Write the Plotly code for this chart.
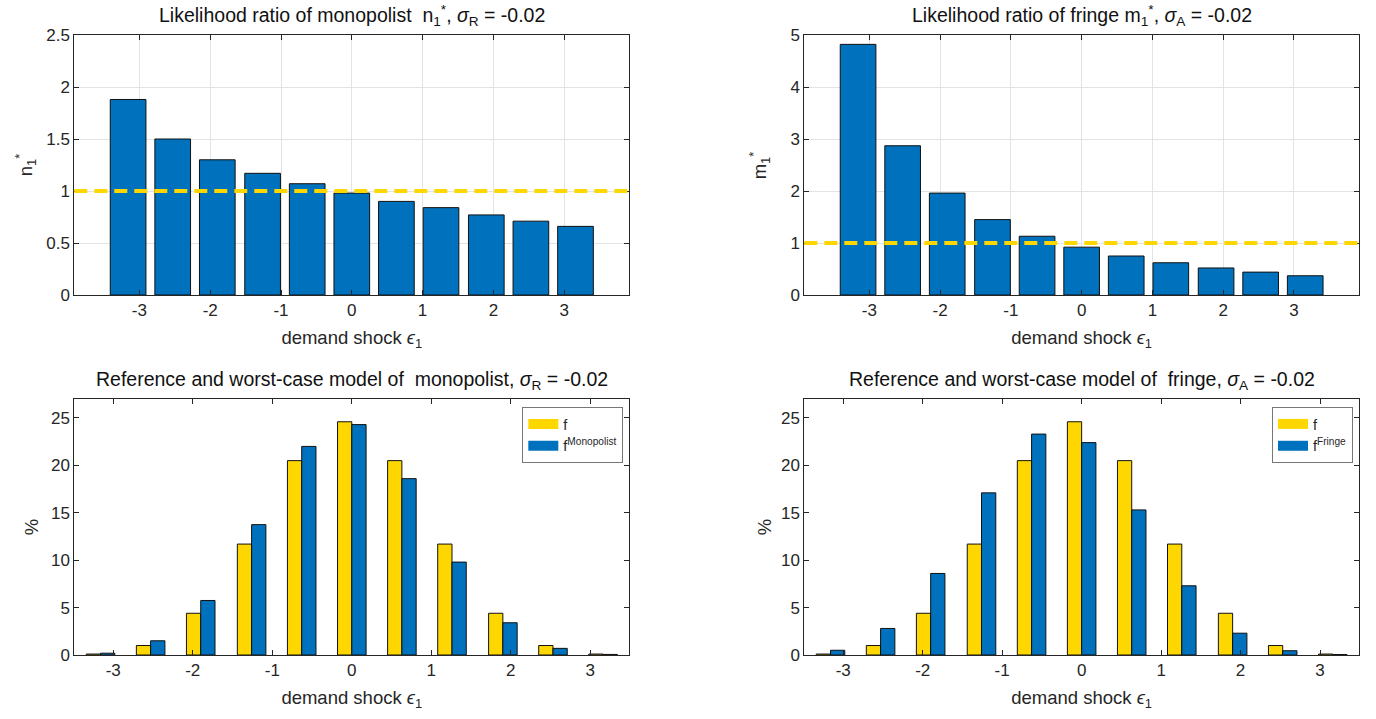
import numpy as np
import plotly.graph_objects as go

# ---------------- data ----------------
eps_grid = [-3.16, -2.53, -1.90, -1.26, -0.63, 0.0, 0.63, 1.26, 1.90, 2.53, 3.16]
lr_monopolist = [1.88, 1.50, 1.30, 1.17, 1.07, 0.98, 0.90, 0.84, 0.77, 0.71, 0.66]
lr_fringe = [4.82, 2.87, 1.96, 1.45, 1.13, 0.92, 0.75, 0.62, 0.52, 0.44, 0.37]
f_reference = [0.1, 1.0, 4.4, 11.7, 20.5, 24.6, 20.5, 11.7, 4.4, 1.0, 0.1]
f_monopolist = [0.19, 1.5, 5.75, 13.75, 22.0, 24.3, 18.6, 9.8, 3.4, 0.7, 0.06]
f_fringe = [0.5, 2.8, 8.6, 17.1, 23.3, 22.4, 15.3, 7.3, 2.3, 0.45, 0.05]
baseline = 1.0
x_ticks = [-3, -2, -1, 0, 1, 2, 3]
x_tick_labels = ["-3", "-2", "-1", "0", "1", "2", "3"]

BLUE = "#0072BD"
YELLOW = "#FFD700"
AX = "#262626"
FONT = "Liberation Sans, Arial, Helvetica, sans-serif"
TICK_SIZE = 17
LABEL_SIZE = 18.5
TITLE_SIZE = 19.5

W, H = 1376, 719
def px_x(a, b):
    return [a / W, b / W]
def px_y(top, bot):
    return [(H - bot) / H, (H - top) / H]

dx_left = px_x(74.3, 629.3)
dx_right = px_x(804.3, 1359)
dy_top = px_y(35, 295)
dy_bot = px_y(399, 655)

spacing = float(np.min(np.diff(eps_grid)))
top_w = 0.8 * spacing
bot_w = 0.285 * spacing

fig = go.Figure()

edge = dict(color="#111111", width=1)

fig.add_trace(go.Bar(x=eps_grid, y=lr_monopolist, width=top_w, marker=dict(color=BLUE, line=edge),
                     xaxis="x", yaxis="y", showlegend=False))
fig.add_trace(go.Bar(x=eps_grid, y=lr_fringe, width=top_w, marker=dict(color=BLUE, line=edge),
                     xaxis="x2", yaxis="y2", showlegend=False))
fig.add_trace(go.Bar(x=eps_grid, y=f_reference, width=bot_w, offset=-bot_w, marker=dict(color=YELLOW, line=edge),
                     xaxis="x3", yaxis="y3", showlegend=False))
fig.add_trace(go.Bar(x=eps_grid, y=f_monopolist, width=bot_w, offset=0, marker=dict(color=BLUE, line=edge),
                     xaxis="x3", yaxis="y3", showlegend=False))
fig.add_trace(go.Bar(x=eps_grid, y=f_reference, width=bot_w, offset=-bot_w, marker=dict(color=YELLOW, line=edge),
                     xaxis="x4", yaxis="y4", showlegend=False))
fig.add_trace(go.Bar(x=eps_grid, y=f_fringe, width=bot_w, offset=0, marker=dict(color=BLUE, line=edge),
                     xaxis="x4", yaxis="y4", showlegend=False))

# legend proxies
for name, col, lg in [("f", YELLOW, "legend"), ("f<sup>Monopolist</sup>", BLUE, "legend"),
                      ("f", YELLOW, "legend2"), ("f<sup>Fringe</sup>", BLUE, "legend2")]:
    fig.add_trace(go.Scatter(x=[None], y=[None], mode="lines", name=name,
                             line=dict(color=col, width=15),
                             xaxis="x3" if lg == "legend" else "x4",
                             yaxis="y3" if lg == "legend" else "y4",
                             legend=lg, showlegend=True, hoverinfo="skip"))

for xr, yr in [("x", "y"), ("x2", "y2")]:
    fig.add_shape(type="line", xref=xr + " domain", yref=yr, x0=0, x1=1, y0=baseline, y1=baseline,
                  line=dict(color=YELLOW, width=4, dash="13px,7px"), layer="above")

def grid_kw(grid):
    if grid:
        return dict(showgrid=True, gridcolor="#e3e3e3", gridwidth=1)
    return dict(showgrid=False, minor=dict(showgrid=False))

def common(grid):
    return dict(ticks="inside", ticklen=5, tickcolor=AX, mirror="ticks", showline=True, linecolor=AX,
                linewidth=1, zeroline=False, automargin=False, showspikes=False, **grid_kw(grid),
                tickfont=dict(size=TICK_SIZE, color=AX, family=FONT))

def xax(domain, anchor, rng, grid):
    return dict(domain=domain, anchor=anchor, range=rng, tickmode="array", tickvals=x_ticks,
                ticktext=x_tick_labels, **common(grid),
                title=dict(text="demand shock <i>ϵ</i><sub>1</sub>",
                           font=dict(size=LABEL_SIZE, color=AX, family=FONT), standoff=11))

def yax(domain, anchor, rng, dtick, grid):
    return dict(domain=domain, anchor=anchor, range=rng, dtick=dtick, tick0=0, **common(grid))

fig.update_layout(
    template="none",
    width=W, height=H, margin=dict(l=0, r=0, t=0, b=0, pad=0, autoexpand=False),
    paper_bgcolor="white", plot_bgcolor="white", hovermode=False,
    barmode="overlay", font=dict(family=FONT, color=AX),
    xaxis=xax(dx_left, "y", [-3.92, 3.92], True),
    yaxis=yax(dy_top, "x", [0, 2.5], 0.5, True),
    xaxis2=xax(dx_right, "y2", [-3.92, 3.92], True),
    yaxis2=yax(dy_top, "x2", [0, 5], 1, True),
    xaxis3=xax(dx_left, "y3", [-3.49, 3.49], False),
    yaxis3=yax(dy_bot, "x3", [0, 27], 5, False),
    xaxis4=xax(dx_right, "y4", [-3.49, 3.49], False),
    yaxis4=yax(dy_bot, "x4", [0, 27], 5, False),
    legend=dict(x=dx_left[1] - 6 / W, y=dy_bot[1] - 8 / H, xanchor="right", yanchor="top",
                bgcolor="white", bordercolor="#777777", borderwidth=1,
                font=dict(size=14.5, color=AX, family=FONT), tracegroupgap=0),
    legend2=dict(x=dx_right[1] - 6 / W, y=dy_bot[1] - 8 / H, xanchor="right", yanchor="top",
                 bgcolor="white", bordercolor="#777777", borderwidth=1,
                 font=dict(size=14.5, color=AX, family=FONT), tracegroupgap=0),
)

titles = [
    ("Likelihood ratio of monopolist \u00a0n<sub>1</sub><sup>*</sup>, <i>σ</i><sub>R</sub> = -0.02", dx_left, dy_top),
    ("Likelihood ratio of fringe m<sub>1</sub><sup>*</sup>, <i>σ</i><sub>A</sub> = -0.02", dx_right, dy_top),
    ("Reference and worst-case model of \u00a0monopolist, <i>σ</i><sub>R</sub> = -0.02", dx_left, dy_bot),
    ("Reference and worst-case model of \u00a0fringe, <i>σ</i><sub>A</sub> = -0.02", dx_right, dy_bot),
]
for txt, dxr, dyr in titles:
    fig.add_annotation(text=txt, xref="paper", yref="paper", x=(dxr[0] + dxr[1]) / 2, y=dyr[1] + 4 / H,
                       xanchor="center", yanchor="bottom", showarrow=False,
                       font=dict(size=TITLE_SIZE, color="#111111", family=FONT))

# y-axis titles (rotated)
ytitles = [
    ("n<sub>1</sub><sup>*</sup>", dx_left, dy_top, 49),
    ("m<sub>1</sub><sup>*</sup>", dx_right, dy_top, 45),
    ("%", dx_left, dy_bot, 43),
    ("%", dx_right, dy_bot, 40),
]
for txt, dxr, dyr, off in ytitles:
    fig.add_annotation(text=txt, xref="paper", yref="paper", x=dxr[0] - off / W, y=(dyr[0] + dyr[1]) / 2,
                       xanchor="center", yanchor="middle", textangle=-90, showarrow=False,
                       font=dict(size=LABEL_SIZE, color=AX, family=FONT))

fig.write_html("out.html", config={"displayModeBar": False},
               post_script="document.body.style.margin='0px';")
